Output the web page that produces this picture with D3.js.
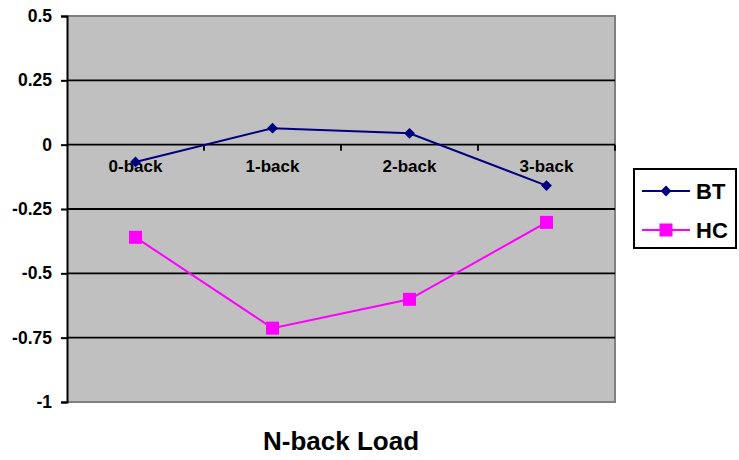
<!DOCTYPE html>
<html><head><meta charset="utf-8">
<script src="https://cdn.jsdelivr.net/npm/d3@7"></script>
<style>body{margin:0;background:#fff}svg{display:block}text{font-family:Arial,"Liberation Sans",sans-serif;font-weight:bold}</style>
</head><body><svg id="c" width="739" height="460"></svg>
<script>
const categories = ["0-back","1-back","2-back","3-back"];
const btValues = [-0.067, 0.064, 0.044, -0.159];
const hcValues = [-0.36, -0.713, -0.601, -0.302];
const yTicks = [0.5, 0.25, 0, -0.25, -0.5, -0.75, -1];
const yTickLabels = ["0.5","0.25","0","-0.25","-0.5","-0.75","-1"];
const seriesNames = ["BT","HC"];

const svg = d3.select("#c");
const L = 67, R = 615, T = 16, B = 402;
const x = d3.scaleBand().domain(categories).range([L, R]);
const y = d3.scaleLinear().domain([-1, 0.5]).range([B, T]);

svg.append("rect").attr("x", L).attr("y", T).attr("width", R - L).attr("height", B - T).attr("fill", "#c0c0c0");
svg.append("path").attr("d", `M${L},${T}H${R}V${B}H${L}`).attr("fill", "none").attr("stroke", "#808080").attr("stroke-width", 2);

// gridlines
svg.append("g").selectAll("line").data(yTicks.filter(v => v > -1 && v < 0.5)).join("line")
  .attr("x1", L).attr("x2", R).attr("y1", d => y(d)).attr("y2", d => y(d))
  .attr("stroke", "#000").attr("stroke-width", 1.8);

// y axis
const yAxis = d3.axisLeft(y).tickValues(yTicks).tickFormat((d, i) => yTickLabels[i]).tickSize(6).tickPadding(9);
const gy = svg.append("g").attr("transform", `translate(${L},0)`).call(yAxis);
gy.select(".domain").attr("stroke", "#000").attr("stroke-width", 2);
gy.selectAll(".tick line").attr("stroke", "#000").attr("stroke-width", 2);
gy.selectAll(".tick text").attr("font-size", 17.5).attr("fill", "#000").style("font-weight", "bold");

// x axis labels at y=0
const xAxis = d3.axisBottom(x).tickSize(0);
const gx = svg.append("g").attr("transform", `translate(0,${y(0)})`).call(xAxis);
gx.select(".domain").remove();
gx.selectAll(".tick text").attr("y", 27).attr("dy", 0).attr("font-size", 17).attr("fill", "#000").style("font-weight", "bold");
const sepPos = categories.map((c) => x(c) + x.bandwidth());
svg.append("g").selectAll("line").data(sepPos).join("line")
  .attr("x1", d => d).attr("x2", d => d).attr("y1", y(0)).attr("y2", y(0) + 6)
  .attr("stroke", "#000").attr("stroke-width", 1.8);

const cx = c => x(c) + x.bandwidth() / 2;
const line = d3.line().x((d, i) => cx(categories[i])).y(d => y(d));

svg.append("path").datum(btValues).attr("d", line).attr("fill", "none").attr("stroke", "#000080").attr("stroke-width", 2);
svg.append("g").selectAll("path").data(btValues).join("path")
  .attr("d", d3.symbol().type(d3.symbolDiamond2).size(75))
  .attr("transform", (d, i) => `translate(${cx(categories[i])},${y(d)})`)
  .attr("fill", "#000080");
svg.append("path").datum(hcValues).attr("d", line).attr("fill", "none").attr("stroke", "#ff00ff").attr("stroke-width", 2);
svg.append("g").selectAll("rect").data(hcValues).join("rect")
  .attr("x", (d, i) => cx(categories[i]) - 6.5).attr("y", d => y(d) - 6.5)
  .attr("width", 13).attr("height", 13).attr("fill", "#ff00ff");

// legend
const lg = svg.append("g");
lg.append("rect").attr("x", 634).attr("y", 169).attr("width", 102).attr("height", 79).attr("fill", "#fff").attr("stroke", "#000").attr("stroke-width", 2);
const legendY = [191, 230];
const colors = ["#000080", "#ff00ff"];
seriesNames.forEach((n, i) => {
  lg.append("line").attr("x1", 642).attr("x2", 690).attr("y1", legendY[i]).attr("y2", legendY[i]).attr("stroke", colors[i]).attr("stroke-width", 2);
  if (i === 0) lg.append("path").attr("d", d3.symbol().type(d3.symbolDiamond2).size(75)).attr("transform", `translate(666,${legendY[i]})`).attr("fill", colors[i]);
  else lg.append("rect").attr("x", 659.5).attr("y", legendY[i] - 6.5).attr("width", 13).attr("height", 13).attr("fill", colors[i]);
  lg.append("text").attr("x", 696).attr("y", legendY[i] + 8).attr("font-size", 22).attr("fill", "#000").text(n);
});

svg.append("text").attr("x", (L + R) / 2).attr("y", 450).attr("text-anchor", "middle").attr("font-size", 26).attr("fill", "#000").text("N-back Load");
</script></body></html>
